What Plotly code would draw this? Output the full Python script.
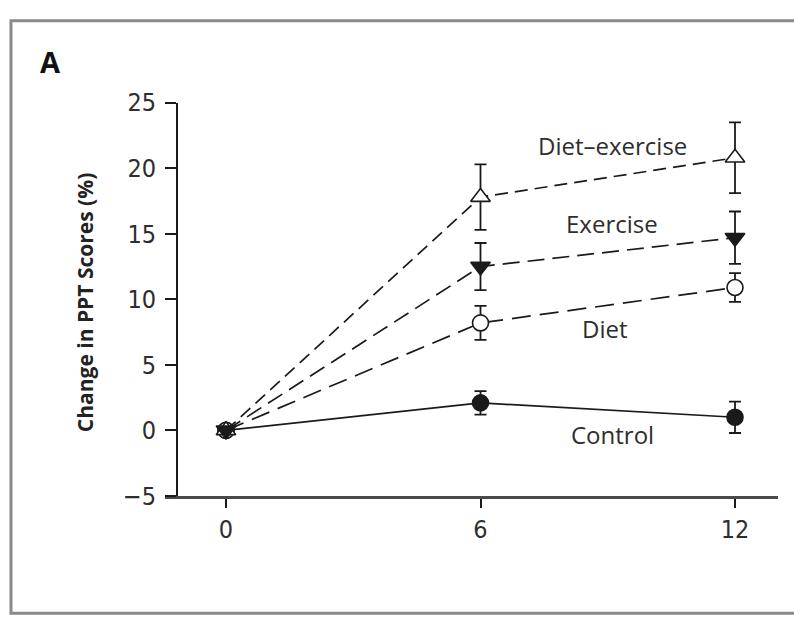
import plotly.graph_objects as go

# Months since baseline
months = [0, 6, 12]

# Mean change in PPT score (%) and error half-widths per group
diet_exercise = [0.0, 17.8, 20.8]
diet_exercise_err = [0.0, 2.5, 2.7]
exercise = [0.0, 12.5, 14.7]
exercise_err = [0.0, 1.8, 2.0]
diet = [0.0, 8.2, 10.9]
diet_err = [0.0, 1.3, 1.1]
control = [0.0, 2.1, 1.0]
control_err = [0.0, 0.9, 1.2]

y_ticks = [-5, 0, 5, 10, 15, 20, 25]
x_ticks = [0, 6, 12]

W, H = 794, 634
INK = "#1a1a1a"
TEXT = "#2e2e2e"
TICK_FONT = "Liberation Sans Narrow, DejaVu Sans Condensed, Open Sans, sans-serif"
LABEL_FONT = "Open Sans, Liberation Sans, sans-serif"

fig = go.Figure()


def add_group(y, err, dash, symbol, fill, size):
    fig.add_trace(go.Scatter(
        x=months, y=y,
        mode="lines+markers",
        line=dict(color=INK, width=1.7, dash=dash),
        marker=dict(symbol=symbol, size=size, color=fill,
                    line=dict(color=INK, width=1.6)),
        error_y=dict(type="data", array=err, visible=True,
                     color=INK, thickness=1.8, width=6),
        showlegend=False,
        cliponaxis=False,
    ))


add_group(control, control_err, "solid", "circle", INK, 16)
add_group(diet, diet_err, "19px,9px", "circle", "white", 16)
add_group(diet_exercise, diet_exercise_err, "13px,7px", "triangle-up", "white", 17)
add_group(exercise, exercise_err, "17px,8px", "triangle-down", INK, 17)

# plot area placement in pixels
x_left, x_right = 165, 778
y_top, y_bot = 93, 505
px_per_month = (735 - 226) / 12.0
x_min = (x_left - 226) / px_per_month
x_max = (x_right - 226) / px_per_month

fig.update_layout(
    width=W, height=H,
    margin=dict(l=0, r=0, t=0, b=0),
    paper_bgcolor="white", plot_bgcolor="white",
    xaxis=dict(
        domain=[x_left / W, x_right / W],
        range=[x_min, x_max],
        tickvals=x_ticks, ticktext=[str(v) for v in x_ticks],
        ticks="outside", ticklen=9, tickwidth=1.5, tickcolor=INK,
        showline=True, linecolor="#4a4a4a", linewidth=2.8,
        showgrid=False, zeroline=False,
        tickfont=dict(family=TICK_FONT, size=25, color=TEXT),
    ),
    yaxis=dict(
        domain=[(H - y_bot) / H, (H - y_top) / H],
        range=[-5, 25],
        anchor="free", position=177 / W,
        tickvals=y_ticks,
        ticktext=[("\u2212" + str(-v)) if v < 0 else str(v) for v in y_ticks],
        ticks="outside", ticklen=11, tickwidth=1.5, tickcolor=INK,
        ticklabelstandoff=4,
        showline=True, linecolor=INK, linewidth=1.8,
        showgrid=False, zeroline=False,
        tickfont=dict(family=TICK_FONT, size=25, color=TEXT),
    ),
)

# outer panel frame
fig.add_shape(type="rect", xref="paper", yref="paper",
              x0=11 / W, x1=1.02, y0=(H - 628) / H, y1=(H - 7) / H,
              line=dict(color="#8a8a8a", width=3), layer="below")

annotations = [
    dict(text="<b>A</b>", x=50 / W, y=(H - 50) / H, size=29, family=LABEL_FONT, color="#111111"),
    dict(text="<b>Change in PPT Scores (%)</b>", x=85 / W, y=(H - 303) / H, size=21,
         family=LABEL_FONT, color="#222222", angle=-90),
    dict(text="Diet\u2013exercise", x=612 / W, y=(H - 138) / H, size=24, family=LABEL_FONT, color=TEXT),
    dict(text="Exercise", x=612 / W, y=(H - 220) / H, size=24, family=LABEL_FONT, color=TEXT),
    dict(text="Diet", x=605 / W, y=(H - 330) / H, size=24, family=LABEL_FONT, color=TEXT),
    dict(text="Control", x=612 / W, y=(H - 441) / H, size=24, family=LABEL_FONT, color=TEXT),
]
for a in annotations:
    fig.add_annotation(
        text=a["text"], x=a["x"], y=a["y"], xref="paper", yref="paper",
        showarrow=False, xanchor="center", yanchor="middle",
        textangle=a.get("angle", 0),
        font=dict(family=a["family"], size=a["size"], color=a["color"]),
    )

fig.write_html("out.html")
